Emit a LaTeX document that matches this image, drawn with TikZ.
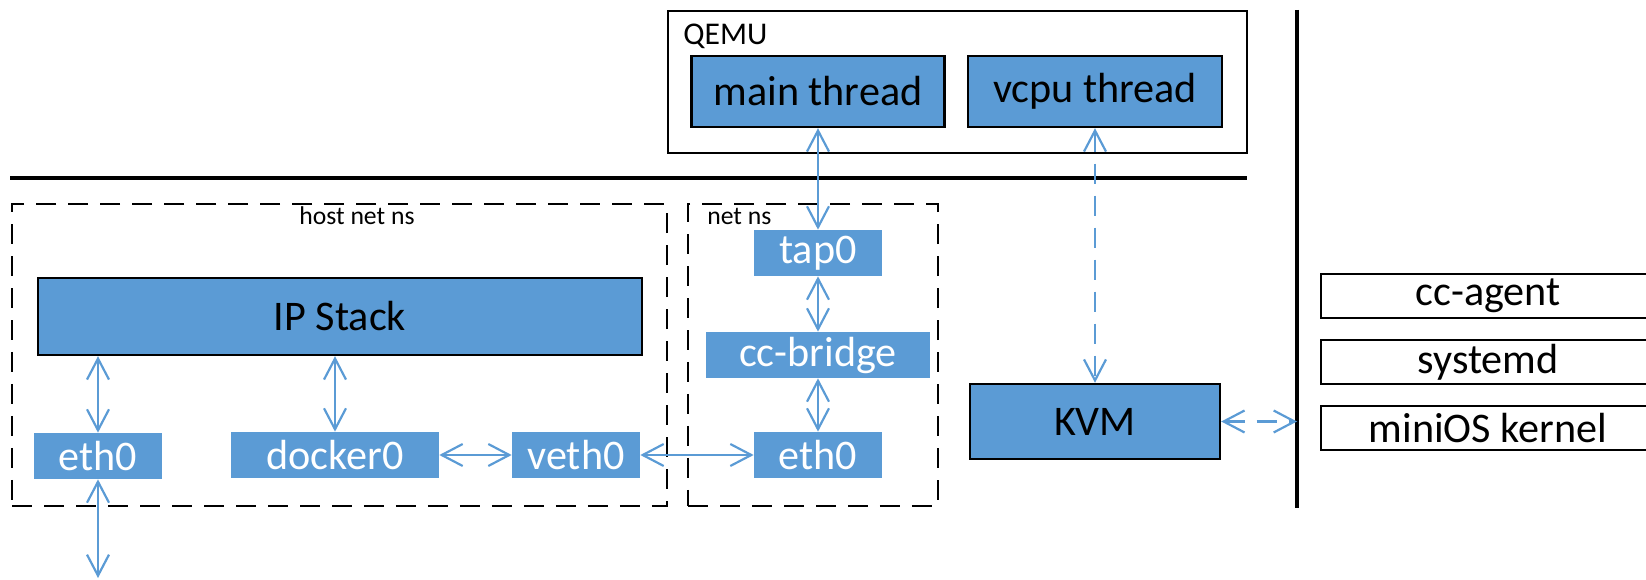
\documentclass[tikz,border=0pt]{standalone}
\usepackage{fontspec}
\setmainfont{Carlito}
\usetikzlibrary{arrows.meta}
\definecolor{netblue}{HTML}{5B9BD5}
\tikzset{bigfont/.style={font=\fontsize{24}{28}\selectfont}}
\tikzset{smallfont/.style={font=\fontsize{14.6}{18}\selectfont}}
\tikzset{procbox/.style={bigfont,draw=black,line width=1.4pt,fill=netblue,text=black,inner sep=0pt}}
\tikzset{portbox/.style={bigfont,fill=netblue,text=white,inner sep=0pt,minimum height=0.92cm}}
\tikzset{guestbox/.style={bigfont,draw=black,line width=1.4pt,fill=white,inner sep=0pt,minimum width=6.68cm,minimum height=0.88cm}}
\tikzset{nsbox/.style={draw=black,line width=1.5pt,dash pattern=on 0.4cm off 0.24cm,inner sep=0pt,minimum height=6.04cm}}
\tikzset{link/.style={netblue,line width=1.25pt,{Straight Barb[length=0.42cm,width=0.44cm]}-{Straight Barb[length=0.42cm,width=0.44cm]}}}
\tikzset{dashlink/.style={link,dash pattern=on 0.4cm off 0.24cm}}

\begin{document}
\begin{tikzpicture}[x=0.02cm,y=-0.02cm]
	\useasboundingbox (0,0) rectangle (1646,580);
	\clip (0,0) rectangle (1646,580);

	% QEMU process
	\node[draw=black,line width=1.4pt,minimum width=11.58cm,minimum height=2.84cm,inner sep=0pt] (qemu) at (957.5,82) {};
	\node[anchor=base west,font=\fontsize{18}{20}\selectfont,inner sep=0pt] (qemulabel) at (683,45) {QEMU};
	\node[procbox,minimum width=5.06cm,minimum height=1.42cm] (main) at (818,91.5) {main thread};
	\node[procbox,minimum width=5.08cm,minimum height=1.42cm] (vcpu) at (1095,91.5) {vcpu thread};

	% user / kernel split
	\draw[line width=1.8pt] (10,178) -- (1247,178);
	\draw[line width=1.8pt] (1297,10) -- (1297,508);

	% namespaces
	\node[nsbox,minimum width=13.1cm] (hostns) at (339.5,355) {};
	\node[anchor=base,smallfont,inner sep=0pt] (hostnslabel) at (357,225) {host net ns};
	\node[nsbox,minimum width=5cm] (netns) at (813,355) {};
	\node[anchor=base west,smallfont,inner sep=0pt] (netnslabel) at (707,225) {net ns};

	% host side
	\node[procbox,minimum width=12.08cm,minimum height=1.54cm] (ipstack) at (340,316.5) {IP Stack};
	\node[portbox,minimum width=2.56cm] (etha) at (98,456) {eth0};
	\node[portbox,minimum width=4.16cm] (docker) at (335,455) {docker0};
	\node[portbox,minimum width=2.56cm] (veth) at (576,455) {veth0};

	% container side
	\node[portbox,minimum width=2.56cm] (tap) at (818,253) {tap0};
	\node[portbox,minimum width=4.48cm] (bridge) at (818,355) {cc-bridge};
	\node[portbox,minimum width=2.56cm] (ethb) at (818,455) {eth0};

	\node[procbox,minimum width=5cm,minimum height=1.5cm] (kvm) at (1095,421.5) {KVM};

	% guest
	\node[guestbox] (agent) at (1488,296) {cc-agent};
	\node[guestbox] (systemd) at (1488,362) {systemd};
	\node[guestbox] (kernel) at (1488,428) {miniOS kernel};

	\coordinate (wire) at (98,578);
	\coordinate (guest) at (1297,421.5);

	% links
	\draw[link] (ipstack.south -| etha) -- (etha.north);
	\draw[link] (ipstack.south -| docker) -- (docker.north);
	\draw[link] (docker) -- (veth);
	\draw[link] (veth) -- (ethb);
	\draw[link] (etha) -- (wire);
	\draw[link] (main) -- (tap);
	\draw[link] (tap) -- (bridge);
	\draw[link] (bridge) -- (ethb);
	\draw[dashlink] (vcpu) -- (kvm);
	\draw[dashlink] (kvm) -- (guest);
\end{tikzpicture}
\end{document}
